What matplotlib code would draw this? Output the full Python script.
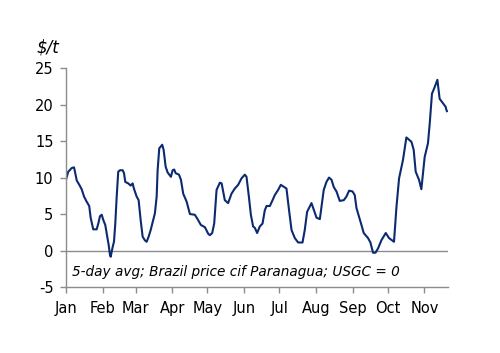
import numpy as np
import matplotlib
matplotlib.use("Agg")
import matplotlib.pyplot as plt

# day of year (Jan 1 = 0) and spread in $/t
days = [0, 1.9, 4.8, 6.8, 7.6, 9.1, 11.3, 13.3, 15.3, 17.5, 19.7, 20.9, 22.6, 23.1,
        26.0, 27.4, 28.8, 30.3, 31.6, 33.3, 35.0, 36.2, 37.3, 37.9, 39.6, 40.7, 41.8,
        43.0, 44.3, 45.8, 48.1, 49.2, 50.3, 52.8, 54.8, 56.5, 57.6, 59.9, 61.6, 63.3,
        65.0, 66.9, 68.4, 70.1, 71.8, 74.0, 75.4, 76.9, 77.7, 79.1, 81.6, 82.8, 84.5,
        86.2, 89.0, 90.4, 91.8, 93.0, 95.8, 97.5, 99.4, 102.3, 105.1, 109.3, 111.6,
        114.4, 117.8, 120.6, 122.0, 124.0, 125.7, 127.7, 130.5, 132.0, 134.7, 137.5,
        140.4, 143.2, 146.0, 148.9, 151.7, 153.1, 155.1, 156.8, 158.7, 160.2, 162.1,
        164.4, 166.7, 168.6, 170.1, 172.9, 175.2, 177.1, 179.9, 182.2, 187.0, 189.2,
        191.3, 194.1, 196.9, 200.6, 202.5, 204.5, 208.2, 210.4, 212.5, 215.3, 218.6,
        220.9, 223.1, 225.2, 227.1, 229.4, 232.2, 235.6, 237.9, 240.1, 243.0, 244.9,
        246.4, 248.6, 250.6, 252.5, 256.2, 258.2, 260.4, 262.5, 264.7, 267.5, 271.2,
        274.0, 278.2, 280.3, 282.5, 285.8, 288.7, 293.0, 294.9, 296.6, 299.4, 301.4,
        304.2, 307.0, 308.5, 310.4, 312.7, 315.0, 316.9, 319.7, 322.0, 322.6, 323.1]
spread = [9.7, 10.8, 11.3, 11.4, 10.8, 9.6, 9.0, 8.4, 7.4, 6.7, 6.1, 4.5, 3.3, 2.9,
          2.9, 3.7, 4.7, 4.9, 4.2, 3.5, 1.9, 0.75, -0.6, -0.85, 0.5, 1.2, 3.7,
          7.4, 10.8, 11.0, 11.0, 10.6, 9.4, 9.2, 8.9, 9.2, 8.5, 7.4, 6.9, 4.2,
          1.9, 1.4, 1.2, 1.9, 2.8, 4.2, 5.1, 7.4, 11.0, 14.0, 14.5, 13.8, 11.5,
          10.7, 10.1, 11.0, 11.1, 10.6, 10.4, 9.7, 7.8, 6.7, 5.0, 4.9, 4.3,
          3.5, 3.2, 2.3, 2.1, 2.4, 3.7, 8.3, 9.3, 9.2, 6.9, 6.5,
          7.8, 8.5, 9.0, 9.9, 10.4, 10.1, 7.4, 4.9, 3.3, 3.1, 2.4,
          3.3, 3.7, 5.5, 6.1, 6.1, 6.9, 7.6, 8.3, 9.0, 8.5, 5.5,
          2.8, 1.7, 1.1, 1.1, 2.8, 5.3, 6.5, 5.5, 4.5, 4.3, 8.3,
          9.4, 10.0, 9.7, 8.7, 8.1, 6.8, 6.9, 7.4, 8.2, 8.1, 7.6,
          5.8, 4.6, 3.5, 2.4, 1.7, 1.1, -0.3, -0.3, 0.3, 1.4, 2.4,
          1.7, 1.2, 6.0, 9.9, 12.4, 15.5, 14.9, 13.8, 10.8, 9.7, 8.4,
          12.8, 14.7, 17.4, 21.5, 22.4, 23.4, 20.8, 20.2, 19.7, 19.3, 19.1]

month_starts = [0, 31, 59, 90, 120, 151, 181, 212, 243, 273, 304]
month_labels = ["Jan", "Feb", "Mar", "Apr", "May", "Jun", "Jul", "Aug", "Sep", "Oct", "Nov"]
y_ticks = [-5, 0, 5, 10, 15, 20, 25]

plt.rcParams["font.family"] = ["DejaVu Sans"]
plt.rcParams["axes.unicode_minus"] = False

fig = plt.figure(figsize=(5, 3.53), dpi=100)
ax = fig.add_axes([0.132, 0.187, 0.764, 0.62])

ax.axhline(0, color="#8c8c8c", lw=1.0, zorder=1)
ax.plot(days, spread, color="#0b2a6f", lw=1.5, zorder=2)

ax.set_xlim(0, 324)
ax.set_ylim(-5, 25)
ax.set_xticks(month_starts)
ax.set_xticklabels(month_labels)
ax.set_yticks(y_ticks)

for side in ["top", "right"]:
    ax.spines[side].set_visible(False)
for side in ["left", "bottom"]:
    ax.spines[side].set_color("#8c8c8c")
    ax.spines[side].set_linewidth(1.0)
ax.tick_params(axis="both", colors="#8c8c8c", labelcolor="black", length=4,
               width=1.0, labelsize=10.5)
ax.tick_params(axis="x", pad=6)
ax.tick_params(axis="y", pad=5)

ax.text(-0.078, 1.055, "$/t", transform=ax.transAxes, fontsize=12,
        style="italic", ha="left", va="bottom")
ax.text(0.015, -3.0, "5-day avg; Brazil price cif Paranagua; USGC = 0",
        transform=ax.get_yaxis_transform(), fontsize=9.8, style="italic",
        ha="left", va="center")

fig.savefig("out.png", dpi=100)
